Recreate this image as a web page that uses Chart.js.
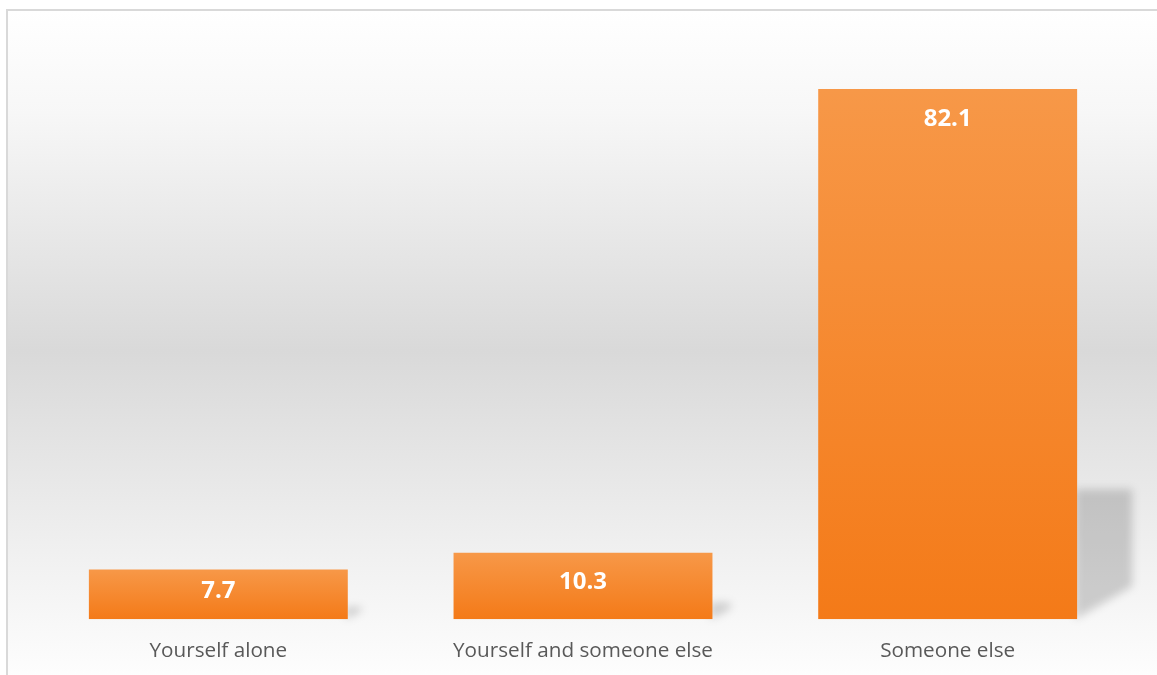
<!DOCTYPE html>
<html>
<head>
<meta charset="utf-8">
<script src="https://cdn.jsdelivr.net/npm/chart.js@4"></script>
<style>
  html, body { margin: 0; padding: 0; background: #fff; overflow: hidden; }
  #frame {
    position: absolute; left: 6px; top: 9px; width: 1160px; height: 680px;
    border-left: 2px solid #d9d9d9; border-top: 2px solid #d9d9d9;
    background: linear-gradient(to bottom, #ffffff 0%, #f7f7f7 15%, #d9d9d9 50%, #f2f2f2 82%, #ffffff 100%);
  }
  #chart { position: absolute; left: 0; top: 0; }
</style>
</head>
<body>
<div id="frame"></div>
<canvas id="chart" width="1157" height="684"></canvas>
<script>
const categories = ['Yourself alone', 'Yourself and someone else', 'Someone else'];
const values = [7.7, 10.3, 82.1];
const axisMax = 90;

// Excel-like floor shadow behind each bar
const shadowPlugin = {
  id: 'barShadow',
  beforeDatasetsDraw(chart) {
    const ctx = chart.ctx;
    const meta = chart.getDatasetMeta(0);
    ctx.save();
    ctx.filter = 'blur(4px)';
    meta.data.forEach(bar => {
      const h = bar.base - bar.y;
      const right = bar.x + bar.width / 2;
      const dx = Math.min(55, h * 0.27);
      const top = bar.base - h * 0.245;
      ctx.fillStyle = 'rgba(0,0,0,0.17)';
      ctx.beginPath();
      ctx.moveTo(right - 2, bar.base);
      ctx.lineTo(right - 2, top);
      ctx.lineTo(right + dx, top);
      ctx.lineTo(right + dx, bar.base - dx * 0.6);
      ctx.closePath();
      ctx.fill();
    });
    ctx.restore();
  }
};

// white bold value labels inside the top of each bar
const labelPlugin = {
  id: 'valueLabels',
  afterDatasetsDraw(chart) {
    const ctx = chart.ctx;
    const meta = chart.getDatasetMeta(0);
    ctx.save();
    ctx.fillStyle = '#ffffff';
    ctx.font = 'bold 24px "Open Sans", sans-serif';
    ctx.textAlign = 'center';
    ctx.textBaseline = 'middle';
    meta.data.forEach((bar, i) => {
      const y = Math.min(bar.y + 30, (bar.y + bar.base) / 2 - 3);
      ctx.fillText(values[i].toFixed(1), bar.x, y);
    });
    ctx.restore();
  }
};

function barGradient(context) {
  const chart = context.chart;
  const { ctx, chartArea, scales } = chart;
  if (!chartArea) return '#f68b36';
  const v = values[context.dataIndex];
  const top = scales.y.getPixelForValue(v);
  const bottom = scales.y.getPixelForValue(0);
  const g = ctx.createLinearGradient(0, top, 0, bottom);
  g.addColorStop(0, '#f79848');
  g.addColorStop(1, '#f47a18');
  return g;
}

new Chart(document.getElementById('chart').getContext('2d'), {
  type: 'bar',
  data: {
    labels: categories,
    datasets: [{
      data: values,
      backgroundColor: barGradient,
      borderWidth: 0,
      barPercentage: 0.71,
      categoryPercentage: 1
    }]
  },
  options: {
    responsive: false,
    animation: false,
    layout: { padding: { left: 36, right: 27, top: 38, bottom: 0 } },
    scales: {
      y: { display: false, min: 0, max: axisMax },
      x: {
        grid: { display: false, drawTicks: false },
        border: { display: false },
        ticks: {
          color: '#595959',
          padding: 20,
          font: { family: '"Open Sans", sans-serif', size: 20.7 }
        }
      }
    },
    plugins: {
      legend: { display: false },
      tooltip: { enabled: false }
    }
  },
  plugins: [shadowPlugin, labelPlugin]
});
</script>
</body>
</html>
